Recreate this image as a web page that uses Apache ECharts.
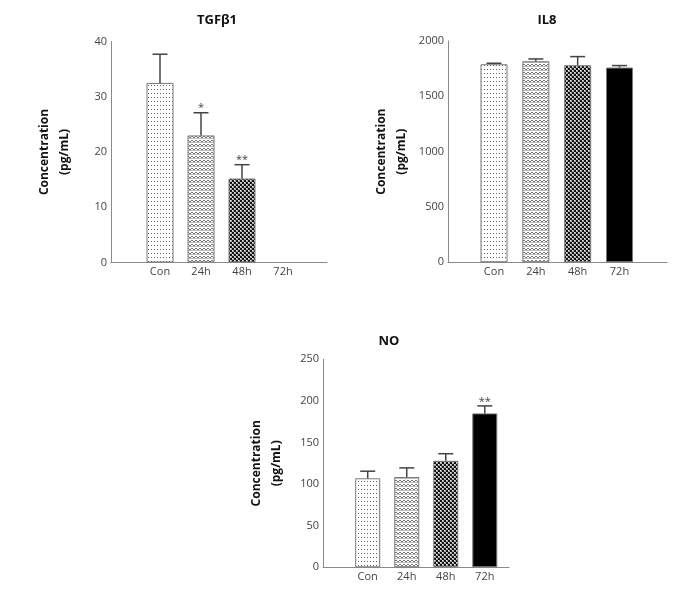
<!DOCTYPE html>
<html>
<head>
<meta charset="utf-8">
<script src="https://cdn.jsdelivr.net/npm/echarts@6/dist/echarts.min.js"></script>
<style>
html,body{margin:0;padding:0;background:#fff;}
#c{width:674px;height:592px;}
</style>
</head>
<body>
<div id="c"></div>
<script>
// ---------- data ----------
const categories = ['Con', '24h', '48h', '72h'];

const tgfMean = [32.5, 23.0, 15.2, null];
const tgfErr  = [5.2, 4.1, 2.5, null];
const tgfSig  = ['', '*', '**', ''];
const tgfMax = 40, tgfStep = 10;

const il8Mean = [1790, 1817, 1781, 1760];
const il8Err  = [9, 21, 78, 18];
const il8Sig  = ['', '', '', ''];
const il8Max = 2000, il8Step = 500;

const noMean = [107, 108.5, 128, 185];
const noErr  = [8.5, 11, 8.5, 9];
const noSig  = ['', '', '', '**'];
const noMax = 250, noStep = 50;

const titles = ['TGF\u03B21', 'IL8', 'NO'];
const yName = 'Concentration\n(pg/mL)';

// ---------- styles ----------
const FONT = '"Open Sans", "DejaVu Sans", sans-serif';
function tile(w, h, draw) {
  const c = document.createElement('canvas');
  c.width = w; c.height = h;
  const g = c.getContext('2d');
  draw(g);
  return c;
}
const patCon = tile(3, 4, g => {
  g.fillStyle = '#fff'; g.fillRect(0, 0, 3, 4);
  g.fillStyle = '#666'; g.fillRect(1, 1, 1, 1);
});
const pat24 = tile(4, 4, g => {
  g.fillStyle = '#fff'; g.fillRect(0, 0, 4, 4);
  g.fillStyle = '#777';
  g.fillRect(0, 0, 1, 1); g.fillRect(1, 1, 1, 1); g.fillRect(2, 1, 1, 1); g.fillRect(3, 0, 1, 1);
  g.fillStyle = '#bbb';
  g.fillRect(0, 2, 4, 1);
});
const pat48 = tile(4, 4, g => {
  g.fillStyle = '#aaa'; g.fillRect(0, 0, 4, 4);
  g.fillStyle = '#111'; g.fillRect(0, 0, 2, 2); g.fillRect(2, 2, 2, 2);
  g.fillStyle = '#eee'; g.fillRect(2, 0, 1, 1); g.fillRect(0, 2, 1, 1);
});
const fills = [
  { image: patCon, repeat: 'repeat' },
  { image: pat24, repeat: 'repeat' },
  { image: pat48, repeat: 'repeat' },
  '#000'
];

// panel layouts (pixels)
const panels = [
  { axL: 111, axR: 327, top: 41.5, bot: 262.5, barL: 139.5, barW: 164, bw: 27, title: [212, 9] },
  { axL: 448, axR: 667, top: 41, bot: 262.3, barL: 473.1, barW: 167.3, bw: 27, title: [542, 9] },
  { axL: 323, axR: 509, top: 359.3, bot: 567.3, barL: 348.2, barW: 156.1, bw: 25, title: [384, 330] }
];
const datasets = [
  { mean: tgfMean, err: tgfErr, sig: tgfSig, max: tgfMax, step: tgfStep },
  { mean: il8Mean, err: il8Err, sig: il8Sig, max: il8Max, step: il8Step },
  { mean: noMean, err: noErr, sig: noSig, max: noMax, step: noStep }
];

const grid = [], xAxis = [], yAxis = [], series = [], title = [];
panels.forEach((p, k) => {
  const d = datasets[k];
  const gAxis = grid.length;
  grid.push({ left: p.axL, width: p.axR - p.axL, top: p.top, height: p.bot - p.top, containLabel: false });
  const gBar = grid.length;
  grid.push({ left: p.barL, width: p.barW, top: p.top, height: p.bot - p.top, containLabel: false });

  // axis grid
  xAxis.push({
    gridIndex: gAxis, type: 'value', min: 0, max: 1,
    axisLine: { show: true, lineStyle: { color: '#8a8a8a', width: 1 } },
    axisTick: { show: false }, axisLabel: { show: false }, splitLine: { show: false }
  });
  yAxis.push({
    gridIndex: gAxis, type: 'value', min: 0, max: d.max, interval: d.step,
    axisLine: { show: true, lineStyle: { color: '#8a8a8a', width: 1 } },
    axisTick: { show: false }, splitLine: { show: false },
    axisLabel: { color: '#444', fontSize: 11, fontFamily: FONT, margin: 4, formatter: v => String(v) },
    name: yName, nameLocation: 'middle', nameRotate: 90, nameGap: 36,
    nameTextStyle: { color: '#111', fontSize: 12, fontWeight: 'bold', fontFamily: FONT, lineHeight: 20, align: 'center' }
  });
  // bar grid
  const xi = xAxis.length;
  xAxis.push({
    gridIndex: gBar, type: 'category', data: categories, boundaryGap: true,
    axisLine: { show: false }, axisTick: { show: false }, splitLine: { show: false },
    axisLabel: { color: '#444', fontSize: 11, fontFamily: FONT, margin: 4 }
  });
  const yi = yAxis.length;
  yAxis.push({ gridIndex: gBar, type: 'value', min: 0, max: d.max, show: false, splitLine: { show: false } });

  series.push({
    type: 'bar', xAxisIndex: xi, yAxisIndex: yi, barWidth: p.bw,
    data: d.mean.map((v, i) => ({ value: v, itemStyle: { color: fills[i] } })),
    itemStyle: { borderColor: '#7a7a7a', borderWidth: 1 },
    silent: true, animation: false
  });
  series.push({
    type: 'custom', xAxisIndex: xi, yAxisIndex: yi, animation: false, silent: true, z: 5,
    data: d.mean.map((v, i) => [i, v, d.err[i]]),
    renderItem: (params, api) => {
      const m = api.value(1), e = api.value(2);
      if (m == null || isNaN(m)) return null;
      const b = api.coord([api.value(0), m]);
      const t = api.coord([api.value(0), m + e]);
      const cap = 7.5;
      const st = { stroke: '#444', lineWidth: 1.5 };
      const ch = [
        { type: 'line', shape: { x1: b[0], y1: b[1], x2: t[0], y2: t[1] }, style: st },
        { type: 'line', shape: { x1: t[0] - cap, y1: t[1], x2: t[0] + cap, y2: t[1] }, style: st }
      ];
      const s = d.sig[params.dataIndex];
      if (s) {
        ch.push({ type: 'text', style: { text: s, x: t[0], y: t[1] + 1, align: 'center', verticalAlign: 'bottom',
          fill: '#444', fontSize: 11, fontFamily: FONT } });
      }
      return { type: 'group', children: ch };
    }
  });
  title.push({
    text: titles[k], left: p.title[0], top: p.title[1], textAlign: 'center',
    textStyle: { color: '#111', fontSize: 13, fontWeight: 'bold', fontFamily: FONT }
  });
});

const chart = echarts.init(document.getElementById('c'), null, { renderer: 'canvas' });
chart.setOption({ animation: false, backgroundColor: '#fff', title, grid, xAxis, yAxis, series });
</script>
</body>
</html>
